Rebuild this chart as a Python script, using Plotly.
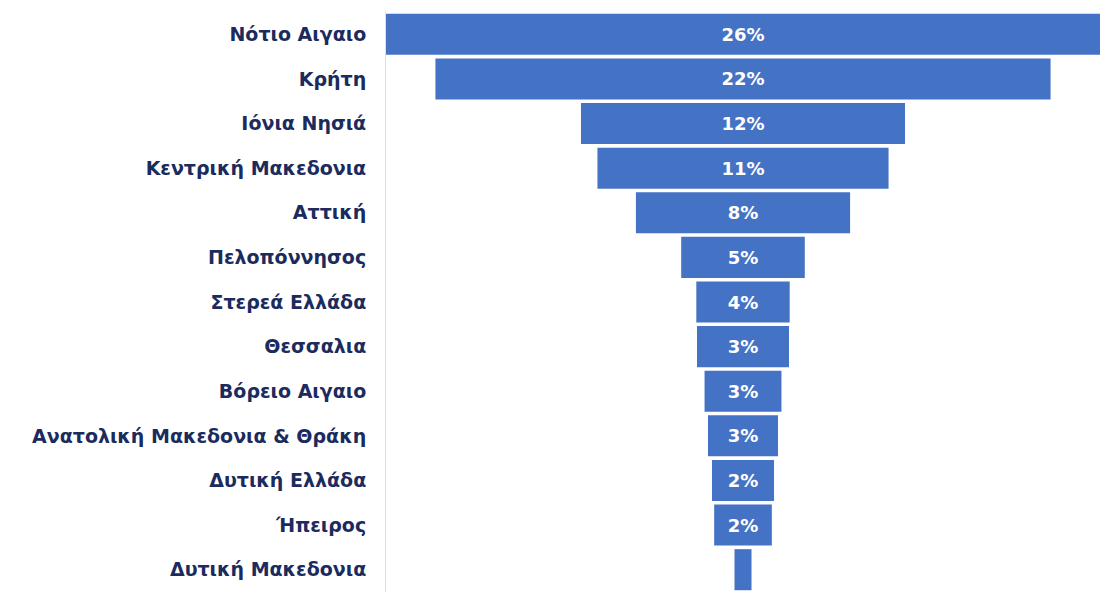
import plotly.graph_objects as go

regions = ["Νότιο Αιγαιο", "Κρήτη", "Ιόνια Νησιά", "Κεντρική Μακεδονια", "Αττική",
           "Πελοπόννησος", "Στερεά Ελλάδα", "Θεσσαλια", "Βόρειο Αιγαιο",
           "Ανατολική Μακεδονια & Θράκη", "Δυτική Ελλάδα", "Ήπειρος", "Δυτική Μακεδονια"]
shares = [26.0, 22.4, 11.8, 10.6, 7.8, 4.5, 3.4, 3.35, 2.8, 2.55, 2.26, 2.1, 0.62]
labels = ["26%", "22%", "12%", "11%", "8%", "5%", "4%", "3%", "3%", "3%", "2%", "2%", ""]

fig = go.Figure(go.Funnel(
    y=regions, x=shares, text=labels, textinfo="text", textposition="inside",
    marker=dict(color="#4472C4", line=dict(width=0)),
    connector=dict(visible=False),
    textfont=dict(family="DejaVu Sans", size=18, color="white", weight="bold"),
    insidetextanchor="middle", constraintext="none",
))
fig.update_layout(
    width=1105, height=602, paper_bgcolor="white", plot_bgcolor="white",
    margin=dict(l=386, r=5, t=12, b=10, autoexpand=False),
    showlegend=False, funnelgap=0.08,
    xaxis=dict(visible=False, range=[-13.0, 13.0], automargin=False),
    yaxis=dict(showline=True, linecolor="#e0e0e0", linewidth=1, ticks="", automargin=False,
               tickfont=dict(family="Verdana, DejaVu Sans, sans-serif", size=19, color="#1B2B5E", weight="bold"),
               ticklabelstandoff=15),
)
fig.write_html("out.html", config={"displayModeBar": False},
               post_script="document.body.style.margin='0';")
